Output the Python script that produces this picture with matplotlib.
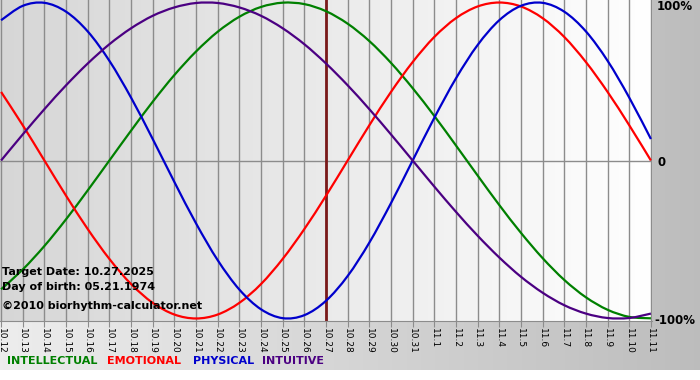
import numpy as np
import matplotlib.pyplot as plt
from matplotlib.path import Path
from matplotlib.patches import PathPatch

# --- Chart data ---
day_labels = ["10.12", "10.13", "10.14", "10.15", "10.16", "10.17", "10.18", "10.19",
              "10.20", "10.21", "10.22", "10.23", "10.24", "10.25", "10.26", "10.27",
              "10.28", "10.29", "10.30", "10.31", "11.1", "11.2", "11.3", "11.4",
              "11.5", "11.6", "11.7", "11.8", "11.9", "11.10", "11.11"]

physical = [0.888, 0.979, 0.998, 0.942, 0.817, 0.631, 0.398, 0.136, -0.136, -0.398,
            -0.631, -0.817, -0.942, -0.998, -0.979, -0.888, -0.731, -0.520, -0.270, 0.0,
            0.270, 0.520, 0.731, 0.888, 0.979, 0.998, 0.942, 0.817, 0.631, 0.398, 0.136]

emotional = [0.434, 0.223, 0.0, -0.223, -0.434, -0.623, -0.782, -0.901, -0.975, -1.0,
             -0.975, -0.901, -0.782, -0.623, -0.434, -0.223, 0.0, 0.223, 0.434, 0.623,
             0.782, 0.901, 0.975, 1.0, 0.975, 0.901, 0.782, 0.623, 0.434, 0.223, 0.0]

intellectual = [-0.815, -0.690, -0.541, -0.372, -0.189, 0.0, 0.189, 0.372, 0.541, 0.690,
                0.815, 0.910, 0.972, 0.999, 0.990, 0.945, 0.866, 0.756, 0.618, 0.458,
                0.282, 0.095, -0.095, -0.282, -0.458, -0.618, -0.756, -0.866, -0.945,
                -0.990, -0.999]

intuitive = [0.0, 0.165, 0.325, 0.476, 0.614, 0.736, 0.837, 0.916, 0.969, 0.997,
             0.997, 0.969, 0.916, 0.837, 0.736, 0.614, 0.476, 0.325, 0.165, 0.0,
             -0.165, -0.325, -0.476, -0.614, -0.736, -0.837, -0.916, -0.969, -0.997,
             -0.997, -0.969]

target_label = "10.27"
target_text = "Target Date: 10.27.2025"
birth_text = "Day of birth: 05.21.1974"
copy_text = "\u00a92010 biorhythm-calculator.net"

series = [("INTELLECTUAL", intellectual, "#008000"),
          ("EMOTIONAL", emotional, "#ff0000"),
          ("PHYSICAL", physical, "#0000cc"),
          ("INTUITIVE", intuitive, "#4b0082")]


def smooth_path(xs, ys):
    # Catmull-Rom through the points, drawn as cubic bezier segments
    p = np.column_stack([xs, ys]).astype(float)
    ext = np.vstack([p[0], p, p[-1]])
    verts, codes = [p[0]], [Path.MOVETO]
    for i in range(len(p) - 1):
        p0, p1, p2, p3 = ext[i], ext[i + 1], ext[i + 2], ext[i + 3]
        verts += [p1 + (p2 - p0) / 6, p2 - (p3 - p1) / 6, p2]
        codes += [Path.CURVE4] * 3
    return Path(verts, codes)


# --- Figure ---
W, H = 700, 380
fig = plt.figure(figsize=(W / 100, H / 100), dpi=100, facecolor="white")

# background gradient (light left -> darker right), white strip at the bottom
bg = fig.add_axes([0, 10 / H, 1, 1 - 10 / H], zorder=-10)
grad = np.linspace(0.93, 0.74, 256)[None, :]
bg.imshow(np.dstack([grad] * 3), aspect="auto", extent=(0, 1, 0, 1))
bg.axis("off")

ax = fig.add_axes([0, 1 - 321 / H, 652 / W, 321 / H])
ax.set_xlim(-0.05, 30.05)
ax.set_ylim(-1.016, 1.016)
pgrad = np.linspace(0.84, 1.0, 256)[None, :]
ax.imshow(np.dstack([pgrad] * 3), aspect="auto",
          extent=(-0.05, 30.05, -1.016, 1.016), zorder=0)

x = np.arange(len(day_labels))
for xi in x:
    ax.axvline(xi, color="#8c8c8c", lw=1, zorder=1)
ax.axhline(0, color="#8c8c8c", lw=1, zorder=1)

ti = day_labels.index(target_label)
ax.axvline(ti, color="#7a1a1a", lw=2, zorder=2)

for name, vals, col in series:
    ax.add_patch(PathPatch(smooth_path(x, vals), fill=False, edgecolor=col,
                           lw=1.6, zorder=3, transform=ax.transData))

for s in ["top", "right", "left"]:
    ax.spines[s].set_visible(False)
ax.spines["bottom"].set_color("#8c8c8c")
ax.set_yticks([])
ax.set_xticks(x)
ax.set_xticklabels(day_labels, rotation=-90, fontsize=6.5)
ax.tick_params(axis="x", length=4, color="#8c8c8c", pad=1)

# right side labels
fig.text(657 / W, 1 - 7 / H, "100%", fontsize=8.5, fontweight="bold", va="center", ha="left")
fig.text(657 / W, 1 - 162 / H, "0", fontsize=8.5, fontweight="bold", va="center", ha="left")
fig.text(654 / W, 1 - 321 / H, "-100%", fontsize=8.5, fontweight="bold", va="center", ha="left")

# info text
ax.text(0.003, 1 - 272 / 321, target_text, transform=ax.transAxes, fontsize=8,
        fontweight="bold", va="center", zorder=4)
ax.text(0.003, 1 - 287 / 321, birth_text, transform=ax.transAxes, fontsize=8,
        fontweight="bold", va="center", zorder=4)
ax.text(0.003, 1 - 306 / 321, copy_text, transform=ax.transAxes, fontsize=8,
        fontweight="bold", va="center", zorder=4)

# legend as coloured words
lx = [7, 107, 193, 262]
for (name, vals, col), px in zip(series, lx):
    fig.text(px / W, 1 - 361 / H, name, color=col, fontsize=8, fontweight="bold",
             va="center", ha="left")

fig.savefig("out.png", dpi=100)
